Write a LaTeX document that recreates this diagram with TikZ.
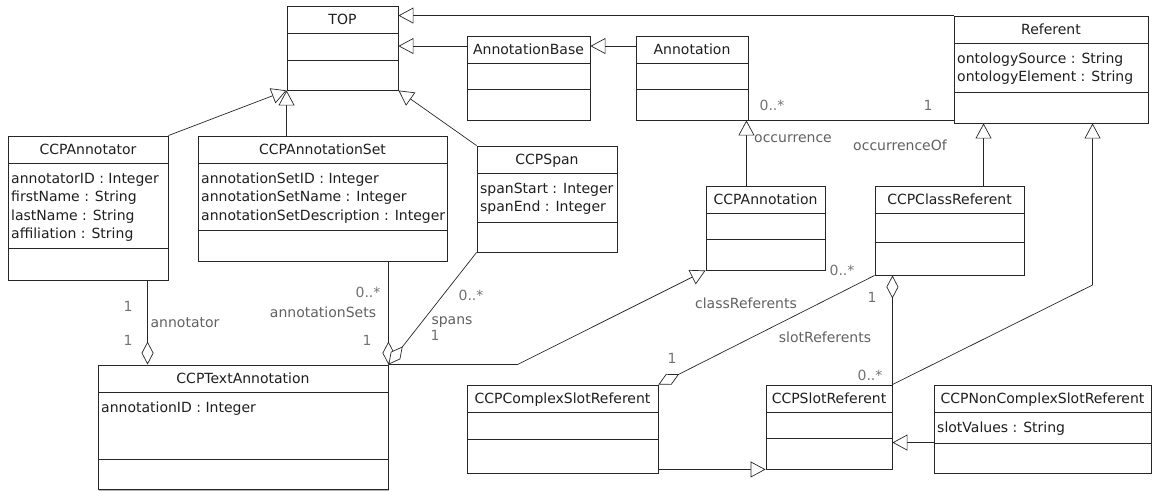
\documentclass[tikz,border=0pt]{standalone}
\usepackage{fontspec}
\setmainfont{DejaVu Sans}
\usetikzlibrary{arrows.meta,fit,shadows}

\newcommand\umltext{\fontsize{14}{16}\selectfont}

\tikzset{
  x=1pt, y=-1pt,
  classbox/.style={draw=black!85, line width=0.9pt, fill=white, inner sep=0pt,
    drop shadow={shadow xshift=1.3pt, shadow yshift=-1.3pt, opacity=0.3, fill=black}},
  divider/.style={draw=black!85, line width=0.9pt},
  classtitle/.style={font=\umltext, text=black!88, inner sep=0pt, anchor=base},
  attr/.style={font=\umltext, text=black!88, inner sep=0pt, anchor=base west},
  role/.style={font=\umltext, text=black!62, inner sep=0pt},
  mult/.style={font=\umltext, text=black!55, inner sep=0pt},
  link/.style={draw=black!85, line width=0.7pt},
  gen/.style={link, -{Triangle[open, length=15pt, width=16pt, fill=white]}},
  agg/.style={link, {Diamond[open, length=23pt, width=12pt, fill=white]}-},
}

% class box: name, left, top, right, bottom, header bottom, divider, title
\newcommand\umlclass[8]{%
  \node[classbox, fit={(#2,#3) (#4,#5)}] (#1) {};
  \draw[divider] (#2,#6) -- (#4,#6);
  \draw[divider] (#2,#7) -- (#4,#7);
  \node[classtitle] (#1-title) at ({(#2+#4)/2},{(#3+#6)/2+5}) {#8};
}
% attribute line: class name, left, header bottom, line number, text
\newcommand\umlattr[5]{%
  \node[attr] (#1-a#4) at ({#2+3},{#3+20+(#4-1)*18.5}) {#5};
}

\begin{document}
\begin{tikzpicture}
\useasboundingbox (0,0) rectangle (1154,491);

% ---- classes ----
\umlclass{top}{287}{6}{398}{90}{33}{60}{TOP}
\umlclass{annbase}{467}{36}{590}{120}{63}{89}{AnnotationBase}
\umlclass{annotation}{636}{36}{748}{120}{63}{89}{Annotation}
\umlclass{referent}{954}{16}{1148}{123}{43}{92}{Referent}
\umlattr{referent}{954}{43}{1}{ontologySource : String}
\umlattr{referent}{954}{43}{2}{ontologyElement : String}

\umlclass{annotator}{8}{136}{168}{280}{163}{248}{CCPAnnotator}
\umlattr{annotator}{8}{163}{1}{annotatorID : Integer}
\umlattr{annotator}{8}{163}{2}{firstName : String}
\umlattr{annotator}{8}{163}{3}{lastName : String}
\umlattr{annotator}{8}{163}{4}{affiliation : String}

\umlclass{annset}{198}{136}{447}{261}{163}{230}{CCPAnnotationSet}
\umlattr{annset}{198}{163}{1}{annotationSetID : Integer}
\umlattr{annset}{198}{163}{2}{annotationSetName : Integer}
\umlattr{annset}{198}{163}{3}{annotationSetDescription : Integer}

\umlclass{span}{477}{146}{617}{252}{173}{222}{CCPSpan}
\umlattr{span}{477}{173}{1}{spanStart : Integer}
\umlattr{span}{477}{173}{2}{spanEnd : Integer}

\umlclass{ccpann}{706}{186}{825}{270}{213}{239}{CCPAnnotation}
\umlclass{classref}{875}{186}{1024}{275}{213}{242}{CCPClassReferent}

\umlclass{textann}{98}{365}{388}{489.5}{392}{459}{CCPTextAnnotation}
\umlattr{textann}{98}{392}{1}{annotationID : Integer}

\umlclass{complex}{467}{385}{658}{473}{412}{439}{CCPComplexSlotReferent}
\umlclass{slotref}{766}{385}{892}{469}{412}{438}{CCPSlotReferent}
\umlclass{nonc}{934}{385}{1151}{473}{412}{443}{CCPNonComplexSlotReferent}
\umlattr{nonc}{934}{412}{1}{slotValues : String}

% ---- generalizations ----
\draw[gen] (referent.north west) -- (referent.north west -| top.east);
\coordinate (abL) at ([yshift=-10.5pt]annbase.north west);
\draw[gen] (abL) -- (abL -| top.east);
\coordinate (anL) at ([yshift=-10.5pt]annotation.north west);
\draw[gen] (anL) -- (anL -| annbase.east);
\draw[gen] (annotator.north east) -- (top.south west);
\draw[gen] (top.south west |- annset.north) -- (top.south west);
\draw[gen] (span.north west) -- (top.south east);
\coordinate (anB) at ([xshift=-2pt]annotation.south east);
\draw[gen] (anB |- ccpann.north) -- (anB);
\coordinate (crT) at ([xshift=30pt]referent.south west);
\draw[gen] (crT |- classref.north) -- (crT);
\coordinate (srT) at ([xshift=139pt]referent.south west);
\coordinate (srBend) at (srT |- 0,285);
\draw[gen] (slotref.north east) -- (srBend) -- (srT);
\coordinate (ncL) at ([yshift=-58pt]nonc.north west);
\draw[gen] (ncL) -- (ncL -| slotref.east);
\coordinate (csR) at ([yshift=4pt]complex.south east);
\draw[gen] (csR) -- (slotref.south west);
\coordinate (taBend) at ([xshift=129pt]textann.north east);
\draw[gen] (textann.north east) -- (taBend) -- (ccpann.south west);

% ---- associations and aggregations ----
\draw[link] (annotation.south east) -- (annotation.south east -| referent.west);
\coordinate (tA) at ([xshift=50pt]textann.north west);
\draw[agg] (tA) -- (tA |- annotator.south);
\draw[agg] (textann.north east) -- (textann.north east |- annset.south);
\draw[agg] (textann.north east) -- (span.south west);
\draw[agg] (complex.north east) -- (classref.south west);
\draw[agg] (slotref.north east |- classref.south) -- (slotref.north east);

% ---- role names and multiplicities ----
\node[mult] (m1) at (772,105) {0..*};
\node[mult] (m2) at (928,105) {1};
\node[role] (r1) at (793,139) {occurrence};
\node[role] (r2) at (900,145) {occurrenceOf};
\node[mult] (m3) at (128,306) {1};
\node[role] (r3) at (185,323) {annotator};
\node[mult] (m4) at (128,340) {1};
\node[mult] (m5) at (368,292) {0..*};
\node[role] (r4) at (323,312) {annotationSets};
\node[mult] (m6) at (367,340) {1};
\node[mult] (m7) at (471,295) {0..*};
\node[role] (r5) at (452,322) {spans};
\node[mult] (m8) at (435,335) {1};
\node[role] (r6) at (746,303) {classReferents};
\node[mult] (m9) at (842,270) {0..*};
\node[mult] (m10) at (872,297) {1};
\node[mult] (m11) at (672,358) {1};
\node[role] (r7) at (825,337) {slotReferents};
\node[mult] (m12) at (870,375) {0..*};
\end{tikzpicture}
\end{document}
